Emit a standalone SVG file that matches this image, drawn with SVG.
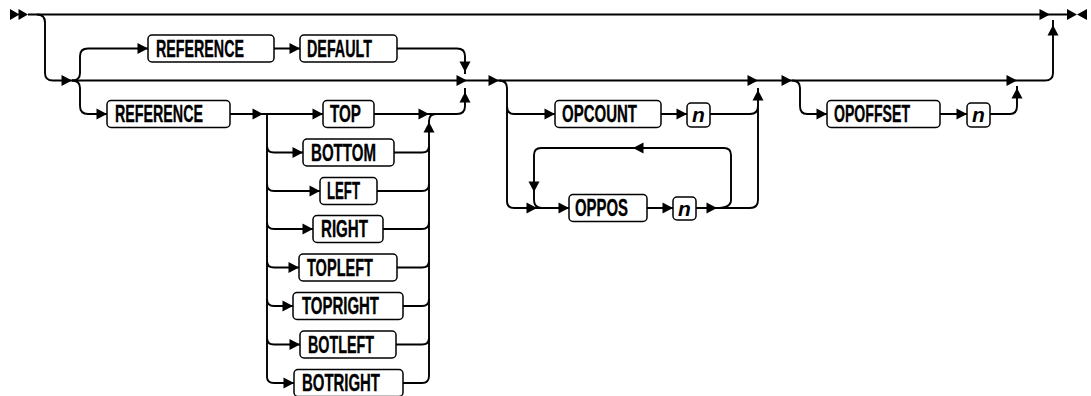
<svg xmlns="http://www.w3.org/2000/svg" xmlns:xlink="http://www.w3.org/1999/xlink" width="1091" height="396" viewBox="0 0 1091 396">
<style>
.ln{fill:none;stroke:#000;stroke-width:1.9}
.bx{fill:#fff;stroke:#000;stroke-width:1.5}
.t{font-family:"Liberation Sans Narrow","Liberation Sans",Arial,sans-serif;font-weight:bold;font-size:23.5px;fill:#000;stroke:#000;stroke-width:0.35}
.n{font-family:"Liberation Sans","DejaVu Sans",sans-serif;font-weight:bold;font-style:italic;font-size:21px;fill:#000;text-anchor:middle}
.ah{fill:#000}
</style>
<defs>
<path id="a" class="ah" d="M0,0 L-10.5,-5.5 L-10.5,5.5 Z"/>
</defs>
<rect width="1091" height="396" fill="#fff"/>
<g id="connectors">
<path class="ln" d="M28,14.5 H1067"/>
<path class="ah" d="M10,9 L19.5,14.5 L10,20 Z M18.5,9 L28,14.5 L18.5,20 Z"/>
<path class="ah" d="M1067,9 L1077,14.5 L1067,20 Z M1087,9 L1077,14.5 L1087,20 Z"/>
<path class="ln" d="M37,14.5 Q45,14.5 45,22.5 V73 Q45,80.5 53,80.5 H1045 Q1053,80.5 1053,73 V20"/>
<path class="ln" d="M72,80.5 Q80,80.5 80,73 V56 Q80,48.5 88,48.5 H148 M274,48.5 H300 M397,48.5 H457 Q465,48.5 465,56 V74"/>
<path class="ln" d="M72,80.5 Q80,80.5 80,88 V106 Q80,114 88,114 H107 M230,114 H323 M374,114 H457 Q465,114 465,106 V88"/>
<path class="ln" d="M267,114 V377 Q267,383 274,383 H294"/>
<path class="ln" d="M267,146 Q267,152.5 274,152.5 H303 M267,184 Q267,191 274,191 H320 M267,222 Q267,229 274,229 H313 M267,261 Q267,267.5 274,267.5 H299 M267,299 Q267,306 274,306 H293 M267,338 Q267,344.5 274,344.5 H300"/>
<path class="ln" d="M403,383 H422 Q429,383 429,376 V121 Q429,114 436,114"/>
<path class="ln" d="M394,152.5 H422 Q429,152.5 429,146 M377,191 H422 Q429,191 429,184 M383,229 H422 Q429,229 429,222 M397,267.5 H422 Q429,267.5 429,261 M403,306 H422 Q429,306 429,299 M396,344.5 H422 Q429,344.5 429,338"/>
<path class="ln" d="M499,80.5 Q507,80.5 507,88 V201 Q507,208 514,208 H569 M507,106 Q507,114 514,114 H555 M661,114 H687 M710,114 H750 Q758,114 758,106 M647,208 H673 M696,208 H750 Q758,208 758,200 V88"/>
<path class="ln" d="M717,208 Q731,208 731,200 V155 Q731,148 724,148 H541 Q534,148 534,155 V200 Q534,208 542,208"/>
<path class="ln" d="M792,80.5 Q800,80.5 800,88 V106 Q800,114 807,114 H827 M940,114 H967 M990,114 H1010 Q1017,114 1017,106 V86"/>
<use href="#a" transform="translate(72,80.5)"/>
<use href="#a" transform="translate(148,48.5)"/>
<use href="#a" transform="translate(300,48.5)"/>
<use href="#a" transform="translate(465,72) rotate(90)"/>
<use href="#a" transform="translate(467,80.5)"/>
<use href="#a" transform="translate(465,92) rotate(-90)"/>
<use href="#a" transform="translate(499,80.5)"/>
<use href="#a" transform="translate(107,114)"/>
<use href="#a" transform="translate(263,114)"/>
<use href="#a" transform="translate(323,114)"/>
<use href="#a" transform="translate(429,114)"/>
<use href="#a" transform="translate(429,122) rotate(-90)"/>
<use href="#a" transform="translate(303,152.5)"/>
<use href="#a" transform="translate(320,191)"/>
<use href="#a" transform="translate(313,229)"/>
<use href="#a" transform="translate(299,267.5)"/>
<use href="#a" transform="translate(293,306)"/>
<use href="#a" transform="translate(300,344.5)"/>
<use href="#a" transform="translate(294,383)"/>
<use href="#a" transform="translate(555,114)"/>
<use href="#a" transform="translate(687,114)"/>
<use href="#a" transform="translate(758,90) rotate(-90)"/>
<use href="#a" transform="translate(758,80.5)"/>
<use href="#a" transform="translate(537,208)"/>
<use href="#a" transform="translate(569,208)"/>
<use href="#a" transform="translate(673,208)"/>
<use href="#a" transform="translate(717,208)"/>
<use href="#a" transform="translate(633,148) rotate(180)"/>
<use href="#a" transform="translate(534,192) rotate(90)"/>
<use href="#a" transform="translate(792,80.5)"/>
<use href="#a" transform="translate(827,114)"/>
<use href="#a" transform="translate(967,114)"/>
<use href="#a" transform="translate(1017,88) rotate(-90)"/>
<use href="#a" transform="translate(1017,80.5)"/>
<use href="#a" transform="translate(1053,25) rotate(-90)"/>
<use href="#a" transform="translate(1050,14.5)"/>
</g>
<g id="node-reference1"><rect class="bx" x="148" y="35" width="126" height="27" rx="4"/><text class="t" x="156" y="56.5" textLength="88" lengthAdjust="spacingAndGlyphs">REFERENCE</text></g>
<g id="node-default"><rect class="bx" x="300" y="35" width="97" height="27" rx="4"/><text class="t" x="307" y="56.5" textLength="65" lengthAdjust="spacingAndGlyphs">DEFAULT</text></g>
<g id="node-reference2"><rect class="bx" x="107" y="100.5" width="123" height="27" rx="4"/><text class="t" x="115" y="122" textLength="88" lengthAdjust="spacingAndGlyphs">REFERENCE</text></g>
<g id="node-top"><rect class="bx" x="323" y="100.5" width="51" height="27" rx="4"/><text class="t" x="330" y="122" textLength="31" lengthAdjust="spacingAndGlyphs">TOP</text></g>
<g id="node-bottom"><rect class="bx" x="303" y="139" width="91" height="27" rx="4"/><text class="t" x="311" y="160.5" textLength="65" lengthAdjust="spacingAndGlyphs">BOTTOM</text></g>
<g id="node-left"><rect class="bx" x="320" y="177.5" width="57" height="27" rx="4"/><text class="t" x="327" y="199" textLength="33" lengthAdjust="spacingAndGlyphs">LEFT</text></g>
<g id="node-right"><rect class="bx" x="313" y="215.5" width="70" height="27" rx="4"/><text class="t" x="321" y="237" textLength="47" lengthAdjust="spacingAndGlyphs">RIGHT</text></g>
<g id="node-topleft"><rect class="bx" x="299" y="254" width="98" height="27" rx="4"/><text class="t" x="307" y="275.5" textLength="66" lengthAdjust="spacingAndGlyphs">TOPLEFT</text></g>
<g id="node-topright"><rect class="bx" x="293" y="292.5" width="110" height="27" rx="4"/><text class="t" x="302" y="314" textLength="77" lengthAdjust="spacingAndGlyphs">TOPRIGHT</text></g>
<g id="node-botleft"><rect class="bx" x="300" y="331" width="96" height="27" rx="4"/><text class="t" x="308" y="352.5" textLength="66" lengthAdjust="spacingAndGlyphs">BOTLEFT</text></g>
<g id="node-botright"><rect class="bx" x="294" y="369.5" width="109" height="27" rx="4"/><text class="t" x="302" y="391" textLength="78" lengthAdjust="spacingAndGlyphs">BOTRIGHT</text></g>
<g id="node-opcount"><rect class="bx" x="555" y="100.5" width="106" height="27" rx="4"/><text class="t" x="562" y="122" textLength="75" lengthAdjust="spacingAndGlyphs">OPCOUNT</text></g>
<g id="node-n1"><rect class="bx" x="687" y="103" width="23" height="24" rx="4"/><text class="n" x="698.5" y="122">n</text></g>
<g id="node-oppos"><rect class="bx" x="569" y="194.5" width="78" height="27" rx="4"/><text class="t" x="575" y="216" textLength="53" lengthAdjust="spacingAndGlyphs">OPPOS</text></g>
<g id="node-n2"><rect class="bx" x="673" y="197" width="23" height="23" rx="4"/><text class="n" x="684.5" y="216">n</text></g>
<g id="node-opoffset"><rect class="bx" x="827" y="100.5" width="113" height="27" rx="4"/><text class="t" x="834" y="122" textLength="76" lengthAdjust="spacingAndGlyphs">OPOFFSET</text></g>
<g id="node-n3"><rect class="bx" x="967" y="103" width="23" height="24" rx="4"/><text class="n" x="978.5" y="122">n</text></g>
</svg>
